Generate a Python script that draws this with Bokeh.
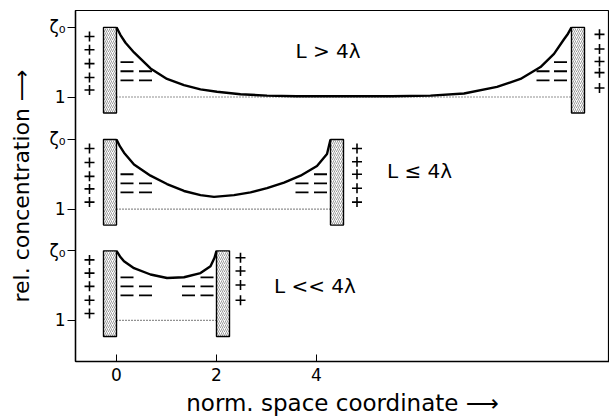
from bokeh.plotting import figure
from bokeh.models import FixedTicker, Label
from bokeh.embed import file_html
from bokeh.resources import INLINE

# ---- stacked panel levels (y units): baseline "1" and top "ζ0" ----
one_ticks = [3.80, 2.19, 0.59]      # top, middle, bottom panel baseline (c = 1)
zeta_ticks = [4.80, 3.19, 1.59]     # top, middle, bottom panel c = ζ0
panel_L = [9.10, 4.28, 2.00]        # distance between the two walls
panel_text = ["L > 4λ", "L ≤ 4λ", "L << 4λ"]
text_x = [3.58, 5.41, 3.15]
text_y = [4.46, 2.74, 1.09]
wall_w = 0.26
wall_depth = 0.23

# ---- concentration profiles (normalised: 0 -> 1, 1 -> ζ0) ----
top_x = [0, 0.08, 0.18, 0.35, 0.68, 1.01, 1.35, 1.68, 2.01, 2.48, 3.01, 3.6,
         4.5, 5.5, 6.28, 6.95, 7.61, 8.08, 8.48, 8.75, 8.95, 9.03, 9.10]
top_n = [1.0, 0.89, 0.78, 0.64, 0.41, 0.26, 0.17, 0.11, 0.075, 0.04, 0.02, 0.01,
         0.01, 0.01, 0.02, 0.05, 0.145, 0.26, 0.43, 0.62, 0.83, 0.91, 1.0]
mid_x = [0, 0.07, 0.15, 0.35, 0.68, 1.01, 1.35, 1.68, 1.95, 2.35, 2.68, 3.01,
         3.35, 3.68, 4.01, 4.21, 4.28]
mid_n = [1.0, 0.9, 0.81, 0.64, 0.48, 0.36, 0.26, 0.20, 0.176, 0.20, 0.24, 0.30,
         0.38, 0.48, 0.62, 0.79, 1.0]
bot_x = [0, 0.07, 0.15, 0.35, 0.68, 1.01, 1.35, 1.68, 1.88, 1.96, 2.00]
bot_n = [1.0, 0.92, 0.85, 0.75, 0.66, 0.61, 0.62, 0.68, 0.78, 0.90, 1.0]

# ---- charges: "+" on the outer side of the walls ----
plus_left_x = [-0.54, -0.54, -0.54]
plus_left_n = [[0.87, 0.68, 0.48, 0.28, 0.10],
               [0.87, 0.67, 0.47, 0.29, 0.10],
               [0.87, 0.68, 0.49, 0.29, 0.10]]
plus_right_x = [9.66, 4.81, 2.48]
plus_right_n = [[0.90, 0.69, 0.51, 0.35, 0.13],
                [0.87, 0.68, 0.50, 0.30, 0.10],
                [0.90, 0.71, 0.51, 0.29]]

# ---- charges: "−" in the solution next to the walls ----
minus_left_x = [[0.21, 0.21, 0.58, 0.21, 0.58],
                [0.21, 0.21, 0.58, 0.21, 0.58],
                [0.21, 0.21, 0.58, 0.21, 0.58]]
minus_right_x = [[8.88, 8.88, 8.53, 8.88, 8.53],
                 [4.08, 4.08, 3.71, 4.08, 3.71],
                 [1.81, 1.81, 1.44, 1.81, 1.44]]
minus_n = [[0.50, 0.37, 0.37, 0.24, 0.24],
           [0.50, 0.37, 0.37, 0.24, 0.24],
           [0.62, 0.49, 0.49, 0.36, 0.36]]

x_ticks = [0, 2, 4]

FONT = "DejaVu Sans"

p = figure(width=609, height=418, output_backend="svg", toolbar_location=None,
           x_range=(-0.82, 9.86), y_range=(0.0, 5.043),
           min_border_left=75, min_border_right=0, min_border_top=10,
           min_border_bottom=55)
p.grid.visible = False
p.outline_line_color = "black"
p.outline_line_width = 1.2
p.background_fill_color = "white"

curves = [(top_x, top_n), (mid_x, mid_n), (bot_x, bot_n)]
for i in range(3):
    b = one_ticks[i]
    h = zeta_ticks[i] - b
    L = panel_L[i]
    cx, cn = curves[i]
    # dotted baseline c = 1
    p.line([0, L], [b, b], line_color="#222222", line_width=1.2,
           line_dash="1 2")
    # walls
    p.quad(left=[-wall_w, L], right=[0, L + wall_w],
           bottom=[b - wall_depth * h] * 2, top=[b + h] * 2,
           fill_color="white", hatch_pattern="/", hatch_color="#707070",
           hatch_scale=4, hatch_weight=0.7,
           line_color="black", line_width=1.4)
    # profile
    p.line(cx, [b + v * h for v in cn], line_color="black", line_width=2.4)
    # + charges
    pl = plus_left_n[i]
    p.scatter([plus_left_x[i]] * len(pl), [b + v * h for v in pl],
              marker="cross", size=10, line_color="black", line_width=1.6)
    pr = plus_right_n[i]
    p.scatter([plus_right_x[i]] * len(pr), [b + v * h for v in pr],
              marker="cross", size=10, line_color="black", line_width=1.6)
    # − charges
    mn = [b + v * h for v in minus_n[i]]
    p.scatter(minus_left_x[i], mn, marker="dash", size=13,
              line_color="black", line_width=1.8)
    p.scatter(minus_right_x[i], mn, marker="dash", size=13,
              line_color="black", line_width=1.8)
    # annotation
    p.add_layout(Label(x=text_x[i], y=text_y[i], text=panel_text[i],
                       text_font=FONT, text_font_size="20px",
                       text_baseline="middle", text_align="left",
                       text_color="black"))

# x axis
p.xaxis.ticker = FixedTicker(ticks=x_ticks)
p.xaxis.major_tick_in = 7
p.xaxis.major_tick_out = 0
p.xaxis.minor_tick_line_color = None
p.xaxis.major_label_standoff = 6
p.xaxis.major_label_text_font = FONT
p.xaxis.major_label_text_font_size = "17px"
p.xaxis.major_label_text_color = "black"
p.xaxis.axis_label = "norm. space coordinate ⟶"
p.xaxis.axis_label_text_font = FONT
p.xaxis.axis_label_text_font_size = "23px"
p.xaxis.axis_label_text_font_style = "normal"
p.xaxis.axis_label_text_color = "black"
p.xaxis.axis_label_standoff = 6
p.xaxis.axis_line_width = 1.4
p.xaxis.axis_line_color = "black"
p.xaxis.major_tick_line_color = "black"

# y axis
overrides = {}
for v in one_ticks:
    overrides[v] = "1"
for v in zeta_ticks:
    overrides[v] = "ζ₀"
p.yaxis.ticker = FixedTicker(ticks=sorted(one_ticks + zeta_ticks))
p.yaxis.major_label_overrides = overrides
p.yaxis.major_tick_in = 0
p.yaxis.major_tick_out = 8
p.yaxis.minor_tick_line_color = None
p.yaxis.major_label_standoff = 2
p.yaxis.major_label_orientation = "horizontal"
p.yaxis.major_label_text_font = FONT
p.yaxis.major_label_text_font_size = "17px"
p.yaxis.major_label_text_color = "black"
p.yaxis.axis_label = "rel. concentration ⟶"
p.yaxis.axis_label_text_font = FONT
p.yaxis.axis_label_text_font_size = "22px"
p.yaxis.axis_label_text_font_style = "normal"
p.yaxis.axis_label_text_color = "black"
p.yaxis.axis_label_standoff = 12
p.yaxis.axis_line_width = 1.4
p.yaxis.axis_line_color = "black"
p.yaxis.major_tick_line_color = "black"

open("out.html", "w").write(file_html(p, INLINE))
